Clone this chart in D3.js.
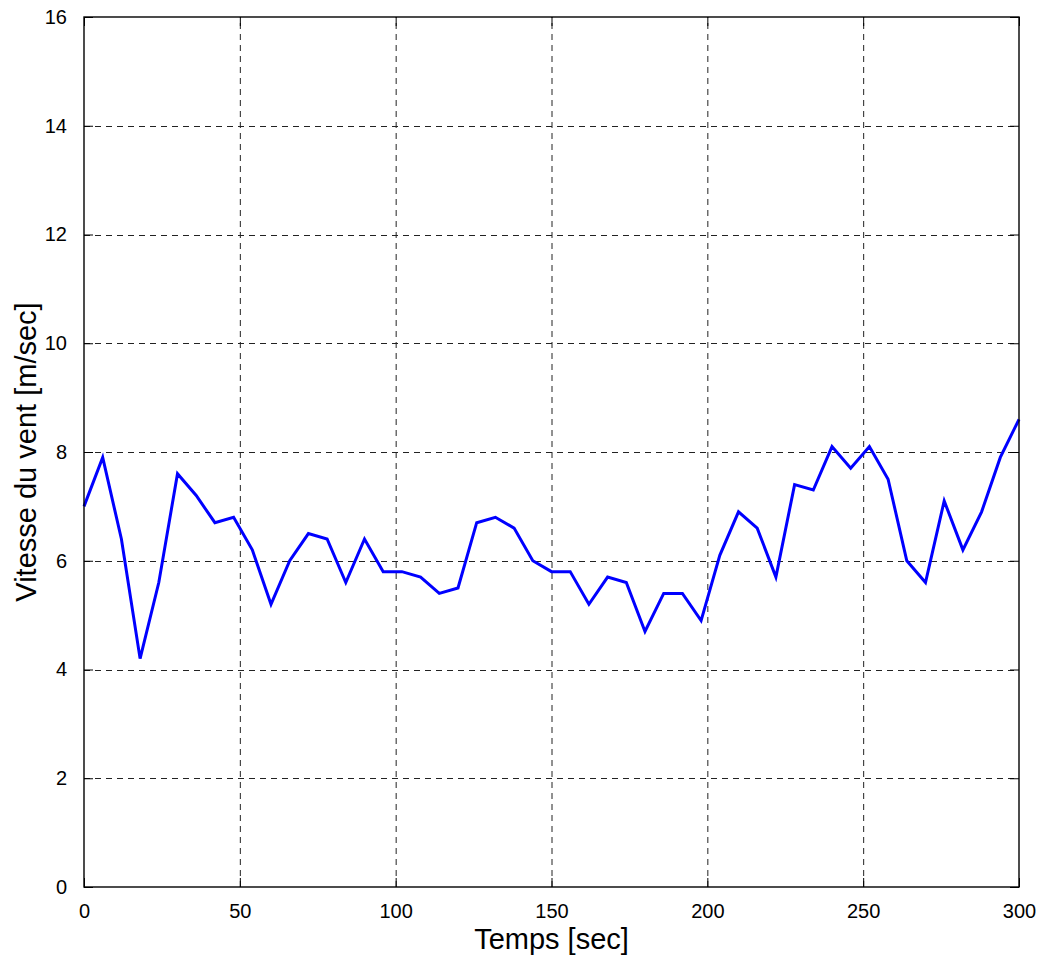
<!DOCTYPE html>
<html>
<head>
<meta charset="utf-8">
<script src="https://cdn.jsdelivr.net/npm/d3@7"></script>
<style>
  html, body { margin: 0; padding: 0; background: #fff; }
  svg { display: block; }
  text { font-family: "Liberation Sans", Arial, sans-serif; fill: #000; }
</style>
</head>
<body>
<svg id="chart" width="1044" height="960"></svg>
<script>
// Wind speed record, sampled every 6 s
const timeSec = [0, 6, 12, 18, 24, 30, 36, 42, 48, 54, 60, 66, 72, 78, 84, 90, 96,
  102, 108, 114, 120, 126, 132, 138, 144, 150, 156, 162, 168, 174, 180, 186, 192,
  198, 204, 210, 216, 222, 228, 234, 240, 246, 252, 258, 264, 270, 276, 282, 288,
  294, 300];
const windSpeed = [7.0, 7.9, 6.4, 4.2, 5.6, 7.6, 7.2, 6.7, 6.8, 6.2, 5.2, 6.0, 6.5,
  6.4, 5.6, 6.4, 5.8, 5.8, 5.7, 5.4, 5.5, 6.7, 6.8, 6.6, 6.0, 5.8, 5.8, 5.2, 5.7,
  5.6, 4.7, 5.4, 5.4, 4.9, 6.1, 6.9, 6.6, 5.7, 7.4, 7.3, 8.1, 7.7, 8.1, 7.5, 6.0,
  5.6, 7.1, 6.2, 6.9, 7.9, 8.6];
const xTicks = [0, 50, 100, 150, 200, 250, 300];
const yTicks = [0, 2, 4, 6, 8, 10, 12, 14, 16];
const xLabel = "Temps [sec]";
const yLabel = "Vitesse du vent [m/sec]";

const svg = d3.select("#chart");
const plot = { left: 84, right: 1019, top: 17, bottom: 887 };

const x = d3.scaleLinear().domain([0, 300]).range([plot.left, plot.right]);
const y = d3.scaleLinear().domain([0, 16]).range([plot.bottom, plot.top]);

const tickLen = 9;

// dashed grid
const grid = svg.append("g").attr("stroke", "#222").attr("stroke-width", 1)
  .attr("stroke-dasharray", "6,5").attr("fill", "none");
grid.selectAll("line.gx").data(xTicks.filter(d => d > 0 && d < 300)).join("line")
  .attr("x1", d => x(d) + 0.5).attr("x2", d => x(d) + 0.5)
  .attr("y1", plot.bottom).attr("y2", plot.top);
grid.selectAll("line.gy").data(yTicks.filter(d => d > 0 && d < 16)).join("line")
  .attr("y1", d => Math.round(y(d)) + 0.5).attr("y2", d => Math.round(y(d)) + 0.5)
  .attr("x1", plot.left).attr("x2", plot.right);

// data line
const line = d3.line().x((d, i) => x(timeSec[i])).y(d => y(d));
svg.append("path").datum(windSpeed)
  .attr("d", line)
  .attr("fill", "none")
  .attr("stroke", "#0000ff")
  .attr("stroke-width", 3)
  .attr("stroke-linejoin", "miter");

// axes box
svg.append("rect")
  .attr("x", plot.left).attr("y", plot.top)
  .attr("width", plot.right - plot.left).attr("height", plot.bottom - plot.top)
  .attr("fill", "none").attr("stroke", "#000").attr("stroke-width", 1.4);

// bottom axis (inward ticks) and mirrored top ticks
const xAxis = d3.axisBottom(x).tickValues(xTicks).tickSize(-tickLen).tickPadding(tickLen + 8)
  .tickFormat(d3.format("d"));
const gx = svg.append("g").attr("transform", `translate(0,${plot.bottom})`).call(xAxis);
gx.select(".domain").remove();
gx.selectAll(".tick line").attr("stroke", "#000").attr("stroke-width", 1);
gx.selectAll(".tick text").attr("font-size", 20).attr("font-family", "Liberation Sans, Arial, sans-serif");

const gxTop = svg.append("g").attr("transform", `translate(0,${plot.top})`)
  .call(d3.axisTop(x).tickValues(xTicks).tickSize(-tickLen).tickFormat(""));
gxTop.select(".domain").remove();
gxTop.selectAll(".tick line").attr("stroke", "#000");

// left axis (inward ticks) and mirrored right ticks
const yAxis = d3.axisLeft(y).tickValues(yTicks).tickSize(-tickLen).tickPadding(tickLen + 8)
  .tickFormat(d3.format("d"));
const gy = svg.append("g").attr("transform", `translate(${plot.left},0)`).call(yAxis);
gy.select(".domain").remove();
gy.selectAll(".tick line").attr("stroke", "#000");
gy.selectAll(".tick text").attr("font-size", 20).attr("font-family", "Liberation Sans, Arial, sans-serif");

const gyRight = svg.append("g").attr("transform", `translate(${plot.right},0)`)
  .call(d3.axisRight(y).tickValues(yTicks).tickSize(-tickLen).tickFormat(""));
gyRight.select(".domain").remove();
gyRight.selectAll(".tick line").attr("stroke", "#000");

// axis titles
svg.append("text")
  .attr("x", (plot.left + plot.right) / 2)
  .attr("y", 949)
  .attr("text-anchor", "middle")
  .attr("font-size", 29)
  .text(xLabel);

svg.append("text")
  .attr("transform", `translate(36,${(plot.top + plot.bottom) / 2}) rotate(-90)`)
  .attr("text-anchor", "middle")
  .attr("font-size", 29)
  .text(yLabel);
</script>
</body>
</html>
